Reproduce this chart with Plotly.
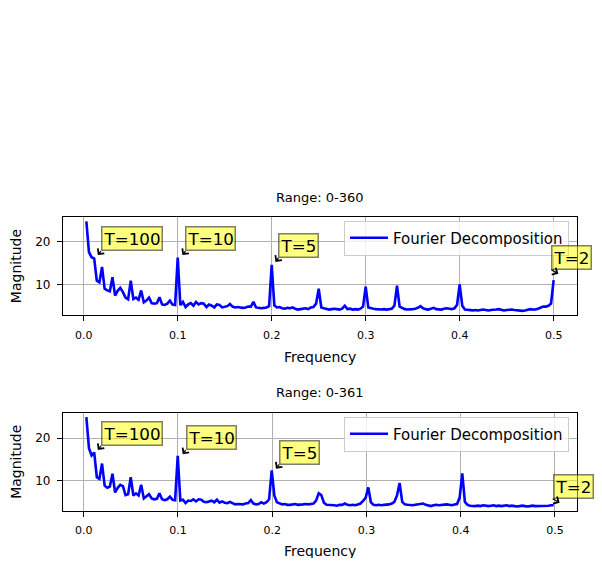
import plotly.graph_objects as go

# ---------------- data ----------------
titles = ["Range: 0-360", "Range: 0-361"]
n_samples = [360, 361]

mag_360 = [
    24.8, 17.6, 16.4, 16.1, 10.9, 10.5, 14.1, 9.0, 8.6, 8.4,
    11.7, 7.4, 8.5, 9.2, 8.2, 6.9, 6.5, 10.9, 6.6, 6.9,
    6.4, 8.6, 5.8, 6.2, 6.9, 5.6, 5.5, 5.6, 7.0, 5.3,
    5.2, 5.5, 6.2, 5.3, 5.2, 16.3, 5.1, 5.9, 4.7, 5.3,
    5.6, 5.0, 5.9, 5.3, 5.6, 5.5, 4.7, 5.3, 5.0, 4.6,
    5.3, 5.2, 4.6, 4.8, 4.9, 5.4, 4.8, 4.6, 4.7, 4.6,
    4.5, 4.6, 4.8, 4.8, 5.9, 4.6, 4.5, 4.4, 4.5, 4.6,
    4.9, 14.6, 5.1, 4.6, 4.7, 4.4, 4.3, 4.5, 4.4, 4.6,
    4.3, 4.1, 4.2, 4.3, 4.4, 4.2, 4.6, 4.7, 5.5, 9.0,
    4.6, 4.4, 4.2, 4.1, 4.2, 4.3, 4.2, 4.1, 4.3, 5.0,
    4.2, 4.3, 4.1, 4.2, 4.1, 4.3, 4.8, 9.5, 4.6, 4.4,
    4.3, 4.2, 4.1, 4.1, 4.2, 4.1, 4.2, 4.3, 5.0, 9.7,
    4.8, 4.4, 4.2, 4.1, 4.1, 4.2, 4.3, 4.5, 4.9, 4.4,
    4.2, 4.1, 4.3, 4.5, 4.2, 4.1, 4.1, 4.3, 4.4, 4.3,
    4.2, 4.4, 5.2, 10.0, 5.0, 4.1, 4.0, 3.9, 3.9, 4.0,
    3.9, 4.0, 4.1, 4.0, 3.9, 4.0, 4.0, 4.1, 4.2, 4.0,
    3.9, 4.0, 4.1, 4.1, 4.0, 3.9, 3.8, 3.8, 3.9, 4.0,
    4.2, 4.1, 4.1, 4.3, 4.6, 4.8, 4.8, 5.0, 5.5, 11.0,
]

mag_361 = [
    24.9, 17.6, 15.9, 16.6, 10.8, 10.4, 14.0, 8.8, 8.3, 8.6,
    11.6, 7.2, 8.3, 9.0, 8.7, 6.6, 6.8, 10.8, 6.5, 7.0,
    6.5, 9.0, 5.8, 6.2, 6.8, 5.8, 5.6, 5.7, 7.0, 5.6,
    5.4, 5.6, 6.2, 5.5, 5.4, 15.8, 5.3, 5.5, 4.7, 5.3,
    5.2, 5.6, 5.1, 5.6, 5.5, 5.0, 4.9, 5.1, 5.3, 4.9,
    5.5, 4.8, 5.1, 4.8, 4.7, 5.0, 4.6, 4.4, 4.5, 4.4,
    4.4, 4.6, 4.7, 5.4, 4.6, 4.4, 4.5, 4.9, 4.6, 4.9,
    5.6, 12.4, 6.5, 4.9, 4.6, 4.4, 4.5, 4.3, 4.3, 4.4,
    4.5, 4.3, 4.3, 4.4, 4.5, 4.4, 4.5, 4.6, 5.3, 7.0,
    6.6, 4.8, 4.3, 4.3, 4.3, 4.2, 4.1, 4.3, 4.3, 4.6,
    4.3, 4.2, 4.3, 4.2, 4.4, 4.6, 5.2, 6.0, 8.4, 4.9,
    4.3, 4.2, 4.3, 4.2, 4.3, 4.3, 4.4, 4.6, 5.0, 6.5,
    9.4, 5.0, 4.4, 4.3, 4.2, 4.2, 4.3, 4.4, 4.4, 4.6,
    4.3, 4.1, 4.0, 4.2, 4.3, 4.2, 4.3, 4.3, 4.4, 4.3,
    4.2, 4.4, 4.5, 6.0, 11.7, 5.0, 4.3, 4.1, 4.0, 4.0,
    4.1, 4.0, 4.2, 4.1, 4.0, 4.1, 4.2, 4.0, 4.1, 4.0,
    4.1, 4.2, 4.0, 4.1, 4.0, 3.9, 4.0, 4.1, 4.0, 3.9,
    4.0, 4.1, 4.0, 4.0, 4.1, 4.0, 4.1, 4.1, 4.2, 4.2,
]

magnitudes = [mag_360, mag_361]

period_labels = ["T=100", "T=10", "T=5", "T=2"]
ann_x = [0.015, 0.105, 0.204, 0.505]
ann_y_360 = [16.9, 16.9, 15.3, 12.5]
ann_y_361 = [17.2, 16.2, 12.8, 4.8]
ann_ys = [ann_y_360, ann_y_361]

x_ticks = [0.0, 0.1, 0.2, 0.3, 0.4, 0.5]
y_ticks = [10, 20]

# ---------------- layout constants ----------------
# The page body has an 8px margin, so the figure is sized to fit the window.
FONT = "DejaVu Sans"
W, H = 586, 550
ML, MR, MT, MB = 55, 17, 209, 47
plot_h = H - MT - MB
plot_w = W - ML - MR
domains = [[(294 - 98.3) / plot_h, 1.0], [0.0, 98.3 / plot_h]]
label_shift = [-42, -40]
box_dx = [3, 3, 3, -7]   # pixel offset of each label box from its arrow tip

fig = go.Figure()
annotations = []

for i in range(2):
    n = n_samples[i]
    mags = magnitudes[i]
    freqs = [(k + 1) / n for k in range(len(mags))]
    xa = "x" if i == 0 else "x2"
    ya = "y" if i == 0 else "y2"
    leg = "legend" if i == 0 else "legend2"
    fig.add_trace(go.Scatter(
        x=freqs, y=mags, mode="lines",
        line=dict(color="#0000ff", width=2.6),
        name="Fourier Decomposition",
        xaxis=xa, yaxis=ya, legend=leg, showlegend=True,
    ))

    xspan = freqs[-1] - freqs[0]
    xr = [freqs[0] - 0.05 * xspan, freqs[-1] + 0.05 * xspan]
    yspan = max(mags) - min(mags)
    yr = [min(mags) - 0.05 * yspan, max(mags) + 0.05 * yspan]

    axis_common = dict(
        showline=True, mirror=True, linecolor="black", linewidth=1.3,
        ticks="outside", ticklen=5, tickwidth=1.3, tickcolor="black",
        showgrid=True, gridcolor="#b0b0b0", gridwidth=1.1, zeroline=False,
    )
    xkey = "xaxis" if i == 0 else "xaxis2"
    ykey = "yaxis" if i == 0 else "yaxis2"
    fig.update_layout(**{
        xkey: dict(axis_common, range=xr, domain=[0, 1], anchor=ya,
                   tickvals=x_ticks, ticktext=[f"{v:.1f}" for v in x_ticks],
                   ticklabelstandoff=4,
                   tickfont=dict(family=FONT, size=11, color="black")),
        ykey: dict(axis_common, range=yr, domain=domains[i], anchor=xa,
                   tickvals=y_ticks, ticktext=[str(v) for v in y_ticks],
                   ticklabelstandoff=4,
                   tickfont=dict(family=FONT, size=12, color="black")),
    })

    d0, d1 = domains[i]
    annotations.append(dict(text=titles[i], xref="paper", yref="paper", x=0.5, y=d1,
                            xanchor="center", yanchor="middle", yshift=20, showarrow=False,
                            font=dict(family=FONT, size=13, color="black")))
    annotations.append(dict(text="Frequency", xref="paper", yref="paper", x=0.5, y=d0,
                            xanchor="center", yanchor="middle", yshift=label_shift[i],
                            showarrow=False, font=dict(family=FONT, size=14, color="black")))
    annotations.append(dict(text="Magnitude", xref="paper", yref="paper", x=0, y=(d0 + d1) / 2,
                            xanchor="center", yanchor="middle", xshift=-47, textangle=-90,
                            showarrow=False, font=dict(family=FONT, size=14, color="black")))
    for lab, axv, ayv, dx in zip(period_labels, ann_x, ann_ys[i], box_dx):
        annotations.append(dict(
            text=lab, x=axv, y=ayv, xref=xa, yref=ya,
            showarrow=True, ax=dx, ay=-4, xanchor="left", yanchor="bottom",
            arrowhead=4, arrowsize=1.2, arrowwidth=1.3, arrowcolor="black",
            bgcolor="rgba(255,255,0,0.5)", bordercolor="rgba(0,0,0,0.5)",
            borderwidth=1.5, borderpad=1,
            font=dict(family=FONT, size=16.7, color="black"),
        ))

legend_common = dict(
    bgcolor="rgba(255,255,255,0.8)", bordercolor="#cccccc", borderwidth=1,
    font=dict(family=FONT, size=15, color="black"), itemwidth=38,
    xanchor="right", yanchor="top", x=(561 - ML) / plot_w,
)

fig.update_layout(
    width=W, height=H,
    margin=dict(l=ML, r=MR, t=MT, b=MB),
    paper_bgcolor="white", plot_bgcolor="white",
    font=dict(family=FONT, color="black"),
    showlegend=True,
    legend=dict(legend_common, y=(294 - (212.5 - MT)) / plot_h),
    legend2=dict(legend_common, y=(294 - (408.5 - MT)) / plot_h),
    annotations=annotations,
)

fig.write_html("out.html")
